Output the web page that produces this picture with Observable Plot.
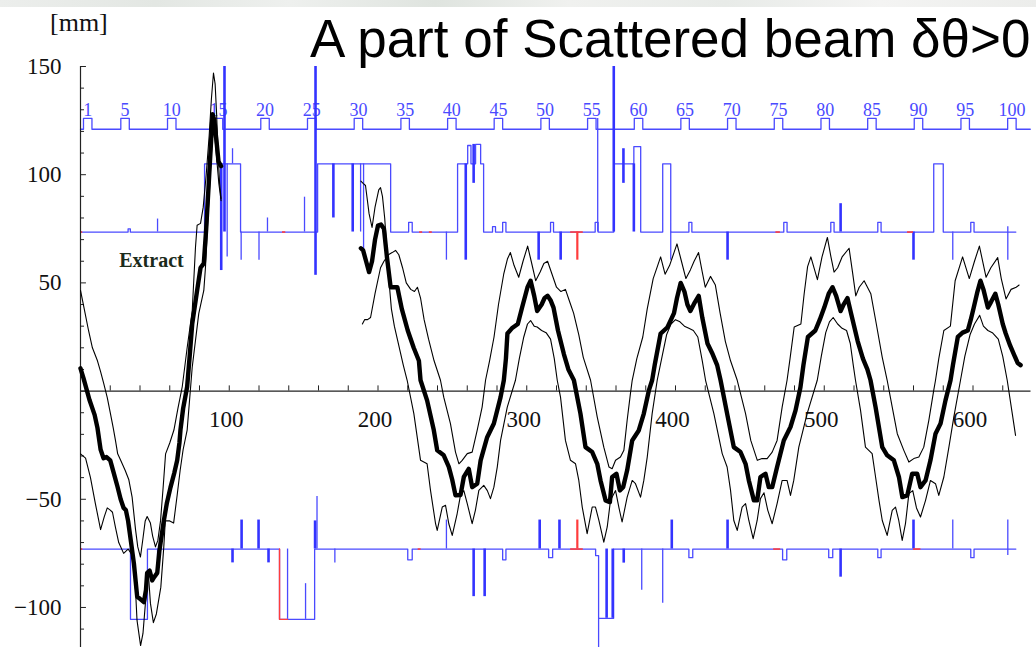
<!DOCTYPE html>
<html>
<head>
<meta charset="utf-8">
<script src="https://cdn.jsdelivr.net/npm/d3@7"></script>
<script src="https://cdn.jsdelivr.net/npm/@observablehq/plot@0.6"></script>
<style>
  html, body { margin: 0; padding: 0; background: #fff; width: 1036px; height: 647px; overflow: hidden; }
  #wrap { position: relative; width: 1036px; height: 647px; }
  #haze { position: absolute; left: 0; top: 0; width: 1036px; height: 7px;
    background: linear-gradient(to right, #eceeec 0%, #e3e7e3 15%, #eef0ee 28%, #dfe4df 42%, #f0f1ef 55%, #e8ebe8 70%, #f4f4f3 85%, #ecedeb 100%); }
  #unit { position: absolute; left: 50px; top: 10px; font-family: "Liberation Serif", serif; font-size: 26px; line-height: 1; color: #111; z-index: 2; }
  #title { position: absolute; left: 310px; top: 12px; font-family: "Liberation Sans", Arial, sans-serif; font-size: 53px; line-height: 1; color: #000; white-space: nowrap; z-index: 2; }
  #chart { position: absolute; left: 0; top: 48px; }
</style>
</head>
<body>
<div id="wrap">
  <div id="haze"></div>
  <div id="unit">[mm]</div>
  <div id="title">A part of Scattered beam δθ&gt;0</div>
  <div id="chart"></div>
</div>
<script>
// ---- beam orbit (mm) versus path length s (m) ----
// before extraction
const orbitCenterA = [[0,10.5],[2,6],[4,1],[6,-4],[8,-8],[9.5,-11],[11.4,-17],[13.5,-27],[15.5,-31],[17.5,-30.5],[20,-32],[22,-37],[24.8,-44],[27,-50],[29,-54],[30.5,-55],[32,-60],[34,-70],[35.9,-79.7],[38.1,-95],[40,-96],[42.6,-97.5],[44,-92],[44.8,-84],[46.5,-83],[48.2,-87.5],[49.5,-86],[51.6,-84],[53,-74],[56,-60],[58,-52],[60.5,-44.5],[63,-38],[65,-32],[66.5,-24],[67.2,-18],[69,-8],[71.7,2],[73.5,17],[75.1,31],[78.4,46.5],[80.7,57],[82.9,59],[84.5,75],[86.3,97],[87.5,112],[88.8,128],[90,125],[91.5,115],[92.8,106],[94.5,104]];

const orbitUpperA = [[0,46.5],[2.5,38],[5.4,28],[8,20],[11.4,14],[13.5,9],[15.6,3.6],[18,-3],[20,-10],[22,-17],[23.5,-22.8],[25,-29],[27,-32],[30,-36.6],[32.5,-41],[34.7,-49],[37,-64],[38.5,-72],[40.3,-76.7],[42,-68],[43.5,-60],[44.8,-58],[47,-61],[48.5,-67],[50.4,-72],[52,-69],[53.8,-60],[55.5,-45],[57.2,-29],[60,-24],[62.8,-18],[65.5,-8],[68.4,2],[71.7,20],[75.1,37],[77.3,66.5],[78.4,76.6],[80.7,77.5],[82.5,85],[84.5,100],[86.5,118],[88,135],[89.4,147],[90.5,142],[91.5,128],[92.5,110],[93.5,96],[94.5,89]];

const orbitLowerA = [[0,-29],[3.4,-31],[6.7,-40],[10,-52],[13.5,-64],[16,-58],[18,-54],[20,-55],[21.5,-56],[23.5,-63],[25.7,-70],[29,-75],[32,-73],[34,-75],[36,-78],[38,-106],[40.4,-117.6],[42,-112],[44,-95],[45,-83],[46,-88],[47,-98],[49,-107],[51,-103],[54,-90.6],[56,-72],[57,-60],[60,-60],[62.6,-61],[65,-48],[67,-36.6],[69,-27],[71.7,-18],[75.1,11],[79.5,35.8],[82.9,46.5],[84,57],[85.2,74],[87,97],[88.2,112],[89.3,122],[90.3,118],[91.5,108],[93,96],[94.5,88]];

// after re-entry
const orbitCenterB = [[188.5,66],[190,65],[192,60],[194,55],[196,60],[198,70],[200,76.5],[202,77],[204,75],[206,62],[208.5,48],[211,48],[213,48],[216,38],[220,28],[224,20],[227.5,14],[228.6,5],[233,-4.3],[237.5,-18],[239.8,-27.4],[244.2,-29.7],[247.6,-35],[249.9,-41],[252.1,-48.2],[255.5,-48],[257.7,-39.7],[261,-35.9],[263.3,-44.4],[266.7,-42.8],[269,-32],[273.4,-21.3],[277.9,-15],[282.4,-2.8],[284.6,5],[286,15],[287,26.6],[290,29],[294,31],[297,39],[300.5,48],[302.6,51],[305,44],[307,37],[310,40],[312,43],[314,44],[316,42],[318,38.6],[321,28],[325,17],[328,10],[331.7,5],[336.1,-10.4],[339.5,-25.9],[344,-28.2],[347.4,-33.6],[349.6,-41.3],[353,-50.5],[355.9,-51.3],[357.4,-39.7],[360.3,-38.2],[362.6,-45.9],[364.8,-44.4],[367.5,-36.6],[370.9,-22.8],[375.3,-18.2],[378.7,-10.4],[382.1,0.3],[384.3,5],[386,12],[390,26.6],[394.6,29.5],[399,36],[401,43],[403.5,50],[406,46],[408,40],[410,37],[413,41],[415.6,44],[418,34],[421.5,22],[425,17],[428,12],[430.3,5],[434.7,-10.4],[439.2,-25.9],[443.7,-28.2],[447.1,-33.6],[449.3,-41.3],[452.7,-50.5],[454.9,-50.5],[457.1,-39.7],[460.5,-38.2],[462.7,-44.4],[465,-44.4],[468.3,-35.1],[472.8,-22.8],[477.3,-16.6],[480.7,-8.9],[484,1.8],[486,12],[489,25],[494,28],[497,33],[500,38.6],[503,45],[505.6,48],[508,44],[511,37],[513,40],[515.6,43],[518,36],[522.5,23],[526,15],[529,10],[531.1,5],[534.5,-7.4],[539,-25.9],[542.3,-29.7],[546.8,-32],[550.2,-39.7],[552.5,-49],[555.8,-48.2],[559.1,-38.2],[562.5,-38.2],[564.7,-44.4],[568.1,-41.3],[571.4,-32],[574.8,-19.7],[578.2,-15],[581.5,-4.3],[584.9,5],[586.5,12],[589.8,25],[593,27],[596.5,28],[598.5,33],[600.5,38.6],[603,46],[605,51],[607,47],[610,38.6],[612,41],[615,45],[617,40],[620,31],[622,26.6],[625,21],[627.5,17],[630,13],[632,12]];

const orbitHighB = [[189.5,31],[191,33],[193,33],[195,34],[198,45],[201.7,57],[204,60],[207,63],[209.5,64],[211.8,65],[214,63],[216.5,57],[219,50],[222,47],[224.5,46],[226.5,48],[228.6,43],[231,33],[234,24],[237.7,14],[242,5],[244.2,-2.8],[248.7,-15],[252.1,-28.2],[254.4,-33.6],[256.6,-32],[260,-28.9],[263.3,-28.2],[266.7,-18],[270,-7.4],[272.3,5],[275,14],[278,25],[281,40],[284.5,54],[287,61],[289,64],[291.5,58],[294.6,52.6],[297.5,60],[300.6,67],[303,60],[306,51],[309,55],[311.5,59],[314,60],[317,54],[320,48],[323,46],[326,47],[328.5,42],[331.5,36],[335,26],[338,15.6],[342.9,5],[347.4,-12],[351.8,-25.9],[355.3,-35.1],[357.4,-35.9],[359.7,-32],[363,-30.5],[365.3,-27.4],[367.5,-13.5],[369.7,-1.2],[370.9,5],[374,15],[378,25],[381,38],[385,52],[388,58],[390,62],[393,54],[396,58],[399,64],[401,68],[404,60],[407,52],[410,56],[412.5,60],[415.5,64],[418,55],[420,48],[423.5,53],[426.8,49],[430,36],[433.5,23],[437,14],[441.5,5],[447.1,-10.4],[450.6,-22.8],[455,-32],[458.2,-31.2],[461.6,-31.2],[465,-28.2],[468.3,-22.8],[471.7,-7.4],[475,5],[477,15],[479.8,29.6],[484.3,31],[486.5,45],[488.8,57.5],[491,62],[495.4,51.5],[498.5,62],[502.1,71],[504.5,62],[506.6,55],[509,57],[512,62],[516.7,66],[519,55],[521.2,44],[523.5,48],[526.8,51],[531.3,45],[535,31],[539,15.6],[542.3,5],[545.7,-7.4],[549.1,-19.7],[553.5,-27.4],[556.9,-32.8],[560.2,-31.2],[563.6,-30.5],[566.9,-25.9],[570.3,-13.5],[573.6,0.3],[574.8,5],[577,15],[580.4,28],[584.8,30],[588,51],[593,62],[597.5,52],[601,60],[604.3,67],[608.8,52.6],[612,57],[616.6,61.7],[619,52],[622.2,42.6],[625.6,47],[629,48],[631,49]];

const orbitLowB = [[188.5,97],[190,96],[191.6,95],[194,82],[196,75.6],[198,85],[200.5,93],[201.7,94],[203,90],[204.5,80],[206,65],[207.5,50],[209,38],[211,30],[213,24],[215,18],[217,12],[219.6,5],[224.1,-10.4],[228.6,-32],[233,-33.6],[235.3,-45.9],[238.7,-61.3],[239.8,-64.4],[243.2,-53.6],[245.4,-52.8],[247.6,-61.3],[249.9,-66.7],[253.2,-56.7],[255.5,-48],[257.7,-46],[260,-52],[263.3,-61.3],[265.5,-55],[267.8,-45.9],[271.1,-43.6],[273.5,-46],[275.6,-49.7],[277.9,-44.4],[280.2,-35],[282.4,-22.8],[286.9,-7.4],[292.4,5],[295,15],[298,25],[300.5,31],[302.6,32.6],[305,30],[307,29.6],[310,28],[313,27],[316,24],[318.5,15],[320.5,5],[322.7,-2.8],[326,-22.8],[329.4,-32],[332.8,-33.6],[335,-41.3],[337.3,-53.6],[340.6,-65.9],[344,-53.6],[346.2,-53.6],[348.5,-59.8],[351.8,-69.8],[354.1,-62.8],[356.3,-50.5],[359.7,-46],[362,-54],[364.1,-60.5],[367.5,-49],[370.9,-41.3],[373.1,-42.8],[376.5,-49],[378.7,-41.3],[381,-30.5],[384.3,-10.4],[387.7,5],[391,16],[394,26],[397,31],[400,33],[403,32],[406,30],[409,29],[412,28],[415,25],[418,14],[420.2,5],[425.8,-10.4],[431.4,-28.9],[434.7,-35.1],[437,-45.9],[439.2,-59.8],[441.5,-64.4],[444.8,-53.6],[447.1,-52],[449.3,-59.8],[452.2,-68.2],[454.9,-59.8],[457.1,-49.7],[459.5,-47],[462,-55],[465,-61.3],[468.3,-52],[471.7,-41.3],[475,-41.3],[477.3,-48.2],[479.5,-41.3],[482.9,-25.9],[488.5,-10.4],[495.3,5],[498,16],[501,27],[503.5,32],[506,34],[509,31],[512,29],[515,28],[517.5,22],[519.5,12],[521,5],[524.4,-8.9],[527.7,-25.9],[532.2,-28.9],[534.5,-39.7],[536.8,-50.5],[539,-59.8],[542.3,-66.7],[545.7,-55.1],[547.9,-53.6],[550.1,-59.8],[552.4,-69],[554.6,-61.3],[556.9,-47.4],[559.5,-46],[562,-54],[564.7,-58.2],[568.1,-50.5],[571.4,-41.3],[574.8,-42.8],[577,-48.2],[580.4,-39.7],[583.8,-25.9],[587.1,-12],[591.6,5],[594.5,16],[598,26],[601,31],[604.5,35],[607,30],[610,28],[613,27],[617,24],[620,16],[623,5],[626.4,-10.4],[628.6,-20.5]];

// ---- aperture (vacuum chamber walls), step outlines in mm ----
const upperWall = [[0,73.5],[32,75],[33.5,73.5],[83.4,105],[107.6,73.5],[159.4,105],[208.5,73.5],[220.6,78],[223,73.5],[253.5,105],[260.3,113.5],[262.5,105],[265.6,114],[269,105],[271,73.5],[277,76],[279,73.5],[283.8,78],[286,73.5],[316,78],[318,73.5],[346,78],[348,73.5],[358.5,105],[372,113],[376.6,73.5],[391.4,105],[396.8,73.5],[409,78],[411,73.5],[472.8,78],[475,73.5],[504.4,78],[506.6,73.5],[536,78],[538.2,73.5],[573.6,105],[580,73.5],[598.5,78],[600.7,73.5],[628.8,73.5]];
const lowerWall = [[0,-73],[33.6,-105.5],[45,-73],[133.8,-105.5],[157.4,-73],[220,-78],[223,-73],[283.8,-78],[286,-73],[314.7,-77],[317.4,-73],[346.3,-76],[348.3,-105],[358.4,-73],[409,-77],[411.6,-73],[472,-78],[474.8,-73],[503,-77],[505.7,-73],[536,-77],[538.2,-73],[598.5,-77],[600.7,-73],[628.8,-73]];

// element markers: [s, from, to]
const upperMarksLight = [[51.8,73.5,79.5],[98.6,105,62],[102.2,105,112],[108,73.5,60.5],[120,73.5,60.5],[125.7,73.5,80],[150.6,73.5,89.6],[188.3,105,73.5],[190.3,105,65],[246,73.5,60.5],[347.7,73.5,126],[396.8,73.5,60.5],[586.4,73.5,60.5],[623.4,60.5,76]];
const upperMarksHeavy = [[94.6,105,55.7],[96.8,150,73.5],[158,150,53.5],[170,105,80],[183,105,73.5],[259,105,60.5],[264.3,114,96],[308,73.5,60.5],[322.8,73.5,60.5],[358.5,150,73.5],[365,112,96],[372,105,73.5],[435,73.5,60.5],[511,73.5,86.6],[560,73.5,60.5]];
const lowerMarksLight = [[51.8,-73,-79.5],[139.2,-73,-105.5],[151.3,-105.5,-89],[159,-73,-48.7],[171,-73,-79.4],[246,-73,-59.6],[348.3,-105,-118.5],[377.3,-73,-92],[391.4,-73,-98],[586.4,-73,-59.6],[623.4,-59.6,-76]];
const lowerMarksHeavy = [[102.2,-73,-79.4],[108.3,-73,-59.6],[119.7,-73,-59.6],[126.4,-73,-79.4],[157.7,-73,-60],[264.3,-73,-95],[271.7,-73,-95],[308.7,-73,-59.6],[322,-73,-59.6],[353.7,-73,-105],[357.8,-73,-105],[365.2,-73,-79.5],[397.5,-73,-59.6],[435,-73,-59.6],[511,-73,-86],[560,-73,-59.6]];
const redMarks = [[334,73.5,60.5],[334,-73,-59.6]];
const redWallSegments = [[0,1.5,73.5],[135.8,138,73.5],[228,230,73.5],[234.5,236.5,73.5],[329.5,338,73.5],[467.5,470.5,73.5],[556,560,73.5],[0,1.5,-73],[227,229,-73],[329.5,338,-73],[466,470.7,-73],[560,565,-73]];
const redChamber = [[133.8,-73],[133.8,-105.5],[139.2,-105.5]];

// ---- lattice cell numbering ----
const cellNumbers = [1,5,10,15,20,25,30,35,40,45,50,55,60,65,70,75,80,85,90,95,100];
const cellStarts = [2.0,27.1,58.5,89.9,121.2,152.6,184.0,215.4,246.8,278.1,309.5,340.9,372.3,403.6,435.0,466.4,497.8,529.2,560.5,591.9,623.3];
const cellMarkLength = 5.7;
const cellLineLevel = 121, cellMarkLevel = 126, cellLabelLevel = 129.7, ringEnd = 638.5;

// ---- axes ----
const xTickLabels = [100,200,300,400,500,600];
const xTicks = d3.range(20, 640, 20);
const yTickLabels = [150,100,50,-50,-100];
const yTicks = d3.range(-110, 151, 10);
const annotations = [{label: "Extract", s: 47.7, y: 60.4}];

// cell numbering line with a raised notch at each labelled cell
const cellLine = [[0, cellLineLevel]];
cellStarts.forEach(s => {
  cellLine.push([s, cellLineLevel], [s, cellMarkLevel], [s + cellMarkLength, cellMarkLevel], [s + cellMarkLength, cellLineLevel]);
});
cellLine.push([ringEnd, cellLineLevel]);
const cellLabels = cellNumbers.map((n, i) => ({n, s: cellStarts[i] + cellMarkLength / 2}));

const blue = "#4a4aff", blueDark = "#3333ff", red = "#ff3c3c";
const serif = "Liberation Serif, Times New Roman, serif";
const X = d => d[0], Y = d => d[1];

const chart = Plot.plot({
  width: 1036,
  height: 599,
  marginLeft: 80,
  marginRight: 4,
  marginTop: 18,
  marginBottom: 0,
  x: {domain: [0, 640], axis: null},
  y: {domain: [-118.5, 150], axis: null},
  style: {overflow: "visible", background: "transparent"},
  marks: [
    // lattice and aperture
    Plot.line(cellLine, {x: X, y: Y, stroke: blue, strokeWidth: 1.3}),
    Plot.text(cellLabels, {x: "s", y: cellLabelLevel, text: d => String(d.n), fill: blue, fontSize: 18, fontFamily: serif}),
    Plot.line(upperWall, {x: X, y: Y, curve: "step-after", stroke: blue, strokeWidth: 1.3}),
    Plot.line(lowerWall, {x: X, y: Y, curve: "step-after", stroke: blue, strokeWidth: 1.3}),
    Plot.ruleX(upperMarksLight, {x: d => d[0], y1: d => d[1], y2: d => d[2], stroke: blue, strokeWidth: 1.3}),
    Plot.ruleX(lowerMarksLight, {x: d => d[0], y1: d => d[1], y2: d => d[2], stroke: blue, strokeWidth: 1.3}),
    Plot.ruleX(upperMarksHeavy, {x: d => d[0], y1: d => d[1], y2: d => d[2], stroke: blueDark, strokeWidth: 2.6}),
    Plot.ruleX(lowerMarksHeavy, {x: d => d[0], y1: d => d[1], y2: d => d[2], stroke: blueDark, strokeWidth: 2.6}),
    Plot.ruleY(redWallSegments, {y: d => d[2], x1: d => d[0], x2: d => d[1], stroke: red, strokeWidth: 1.6}),
    Plot.ruleX(redMarks, {x: d => d[0], y1: d => d[1], y2: d => d[2], stroke: red, strokeWidth: 2.2}),
    Plot.line(redChamber, {x: X, y: Y, stroke: red, strokeWidth: 1.4}),

    // axes through the origin
    Plot.ruleY([0], {x1: 0, x2: 639, stroke: "#222", strokeWidth: 1.2}),
    Plot.ruleX([0], {y1: -118.5, y2: 150, stroke: "#222", strokeWidth: 1.2}),
    Plot.ruleX(xTicks, {x: d => d, y1: 0, y2: 2.4, stroke: "#222", strokeWidth: 1}),
    Plot.ruleY(yTicks, {y: d => d, x1: 0, x2: d => (d % 50 === 0 ? 4 : 2.7), stroke: "#222", strokeWidth: 1}),
    Plot.text(xTickLabels, {x: d => d, y: 0, dy: 29, dx: -3, text: d => String(d), fontSize: 23, fontFamily: serif, fill: "#111"}),
    Plot.text(yTickLabels, {x: 0, y: d => d, dx: -19, textAnchor: "end", text: d => (d < 0 ? "\u2212" + (-d) : String(d)), fontSize: 23, fontFamily: serif, fill: "#111"}),

    // orbits
    Plot.line(orbitUpperA, {x: X, y: Y, stroke: "#000", strokeWidth: 1.1}),
    Plot.line(orbitLowerA, {x: X, y: Y, stroke: "#000", strokeWidth: 1.1}),
    Plot.line(orbitHighB, {x: X, y: Y, stroke: "#000", strokeWidth: 1.1}),
    Plot.line(orbitLowB, {x: X, y: Y, stroke: "#000", strokeWidth: 1.1}),
    Plot.line(orbitCenterA, {x: X, y: Y, stroke: "#000", strokeWidth: 4.4, strokeLinejoin: "round"}),
    Plot.line(orbitCenterB, {x: X, y: Y, stroke: "#000", strokeWidth: 4.4, strokeLinejoin: "round"}),

    Plot.text(annotations, {x: "s", y: "y", text: "label", fontSize: 20, fontWeight: "bold", fontFamily: serif, fill: "#1b2b1b"})
  ]
});
document.getElementById("chart").appendChild(chart);
</script>
</body>
</html>
